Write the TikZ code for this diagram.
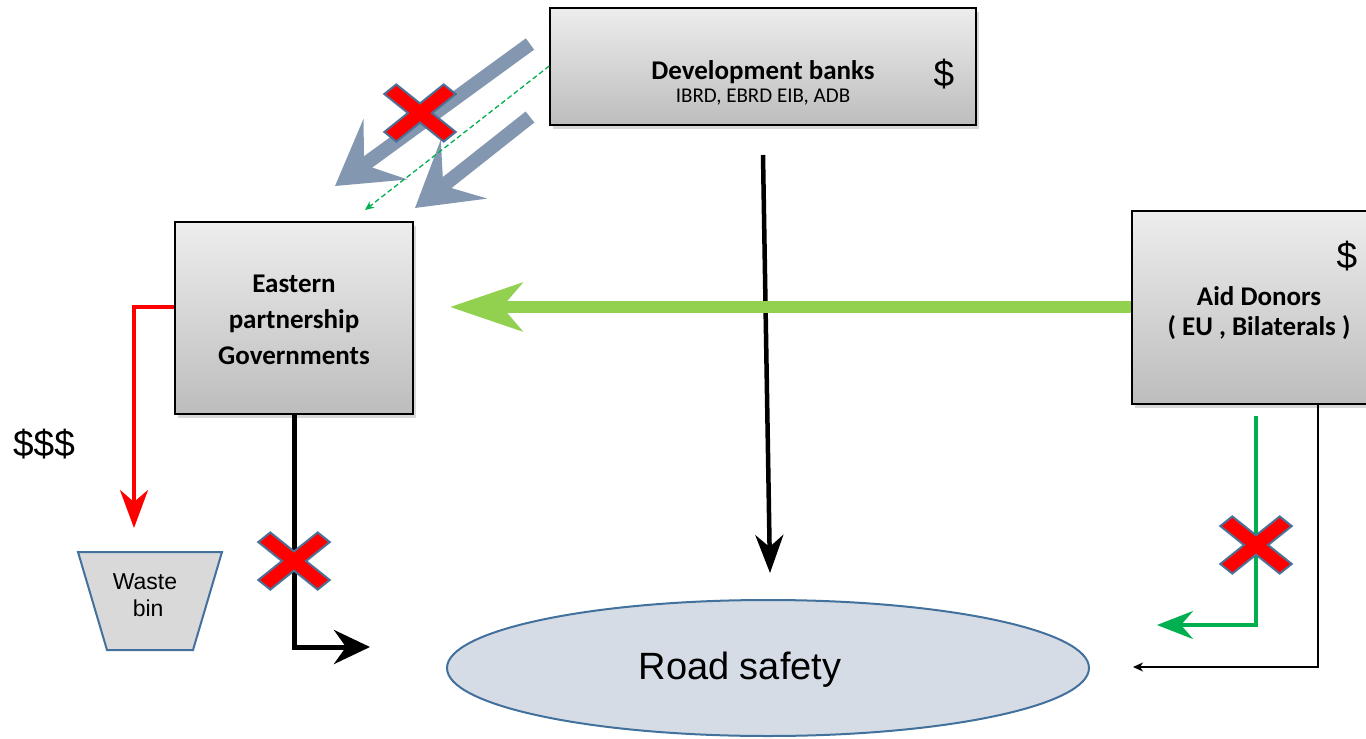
\documentclass[tikz,border=0pt]{standalone}
\usepackage{fontspec}
\setmainfont{Liberation Sans}
\newfontfamily\calfont{Carlito}
\usetikzlibrary{arrows.meta,shadows,shapes.geometric}
\definecolor{grayblue}{HTML}{8497B0}
\definecolor{lightgreen}{HTML}{92D050}
\definecolor{darkgreen}{HTML}{00B050}
\definecolor{ellfill}{HTML}{D6DCE5}
\definecolor{ellline}{HTML}{41719C}
\definecolor{binfill}{HTML}{D9D9D9}
\definecolor{crossline}{HTML}{4A7298}
\tikzset{
  graybox/.style={draw=black, line width=1.4pt, top color=black!7, bottom color=black!26,
    drop shadow={opacity=0.3, shadow xshift=3pt, shadow yshift=-4pt}},
  boldlabel/.style={font=\calfont\bfseries\fontsize{27}{36}\selectfont, align=center, inner sep=0pt},
  dollar/.style={font=\fontsize{37}{40}\selectfont, inner sep=0pt},
  grayarrow/.style={draw=grayblue, line width=14pt, -{Stealth[length=62pt, width=74pt, inset=26pt]}},
  bigarrowgreen/.style={draw=lightgreen, line width=12pt, -{Stealth[length=72pt, width=48pt, inset=20pt]}},
  redcross/.pic={
    \path[fill=red, draw=crossline, line width=2pt, yscale=0.8, rotate=45]
      (8.5,8.5) -- (42,8.5) -- (42,-8.5) -- (8.5,-8.5) -- (8.5,-42) -- (-8.5,-42) -- (-8.5,-8.5)
      -- (-42,-8.5) -- (-42,8.5) -- (-8.5,8.5) -- (-8.5,42) -- (8.5,42) -- cycle;
  }
}
\begin{document}
\begin{tikzpicture}[x=1pt,y=-1pt]
\useasboundingbox[fill=white] (0,0) rectangle (1366,739);

% boxes
\node[graybox, minimum width=426pt, minimum height=117pt] (dev) at (763,66.5) {};
\node[graybox, minimum width=238pt, minimum height=192pt] (gov) at (294,318) {};
\node[graybox, minimum width=252pt, minimum height=193pt] (aid) at (1258,307.5) {};

% box texts
\node[font=\calfont\bfseries\fontsize{27}{30}\selectfont, inner sep=0pt] (devt) at (763,72) {Development banks};
\node[font=\calfont\fontsize{21}{24}\selectfont, inner sep=0pt] (devs) at (763,97) {IBRD, EBRD EIB, ADB};
\node[dollar] (devd) at (944,74) {\$};
\node[boldlabel] (govt) at (294,320) {Eastern\\partnership\\Governments};
\node[boldlabel, font=\calfont\bfseries\fontsize{27}{30}\selectfont] (aidt) at (1259,313) {Aid Donors\\( EU , Bilaterals )};
\node[dollar] (aidd) at (1347,256) {\$};

% road safety
\node[draw=ellline, line width=2pt, fill=ellfill, ellipse, minimum width=642pt, minimum height=136pt, inner sep=0pt] (road) at (768,668) {};
\node[font=\fontsize{38}{42}\selectfont, inner sep=0pt] (roadt) at (740,670) {Road safety};

% waste bin
\path[draw=ellline, line width=2pt, fill=binfill] (78,552) -- (222,552) -- (193,650) -- (107,650) -- cycle;
\node[font=\fontsize{23}{27}\selectfont, align=center, inner sep=0pt] (bint) at (145,595) {Waste\\\ bin};

\node[font=\fontsize{37}{40}\selectfont, inner sep=0pt] (money) at (44,444) {\$\$\$};

% gray arrows from development banks
\coordinate (g1s) at (530,44);
\coordinate (g1e) at (335,186);
\coordinate (g2s) at (530,117);
\coordinate (g2e) at (415,208);
\draw[grayarrow] (g1s) -- (g1e);
\draw[grayarrow] (g2s) -- (g2e);
\coordinate (dashs) at (dev.west |- 0,66);
\coordinate (dashe) at (365,210);
\draw[darkgreen, line width=1.3pt, dash pattern=on 5pt off 3pt, -{Stealth[length=9pt, width=8pt]}] (dashs) -- (dashe);
\pic at (420,113) {redcross};

% development banks -> road safety
\coordinate (devdown) at (763,155);
\coordinate (roadtop) at (770,573);
\draw[line width=4.5pt, -{Stealth[length=38pt, width=28pt, inset=12pt]}] (devdown) -- (roadtop);

% aid -> gov (big green)
\coordinate (govin) at (450,307);
\draw[bigarrowgreen] (aid.west |- 0,307) -- (govin);

% gov -> waste (red)
\coordinate (redcorner) at (134,307);
\coordinate (redend) at (134,528);
\draw[red, line width=4pt, -{Stealth[length=38pt, width=28pt, inset=12pt]}] (gov.west |- 0,307) -- (redcorner) -- (redend);

% gov -> road (black, crossed)
\coordinate (govcorner) at (294,647);
\coordinate (govend) at (370,647);
\draw[line width=5pt, -{Stealth[length=36pt, width=34pt, inset=12pt]}] (gov.south) -- (govcorner) -- (govend);
\pic at (294,561) {redcross};

% aid -> road (green, crossed)
\coordinate (ags) at (1256,416);
\coordinate (agc) at (1256,625);
\coordinate (age) at (1157,625);
\draw[darkgreen, line width=4pt, -{Stealth[length=36pt, width=28pt, inset=12pt]}] (ags) -- (agc) -- (age);
\pic at (1256,545) {redcross};

% aid -> road (thin black)
\coordinate (abs) at (1318,404);
\coordinate (abc) at (1318,667);
\coordinate (abe) at (1133,667);
\draw[line width=1.3pt, -{Stealth[length=10pt, width=9pt, inset=3pt]}] (abs) -- (abc) -- (abe);
\end{tikzpicture}
\end{document}
